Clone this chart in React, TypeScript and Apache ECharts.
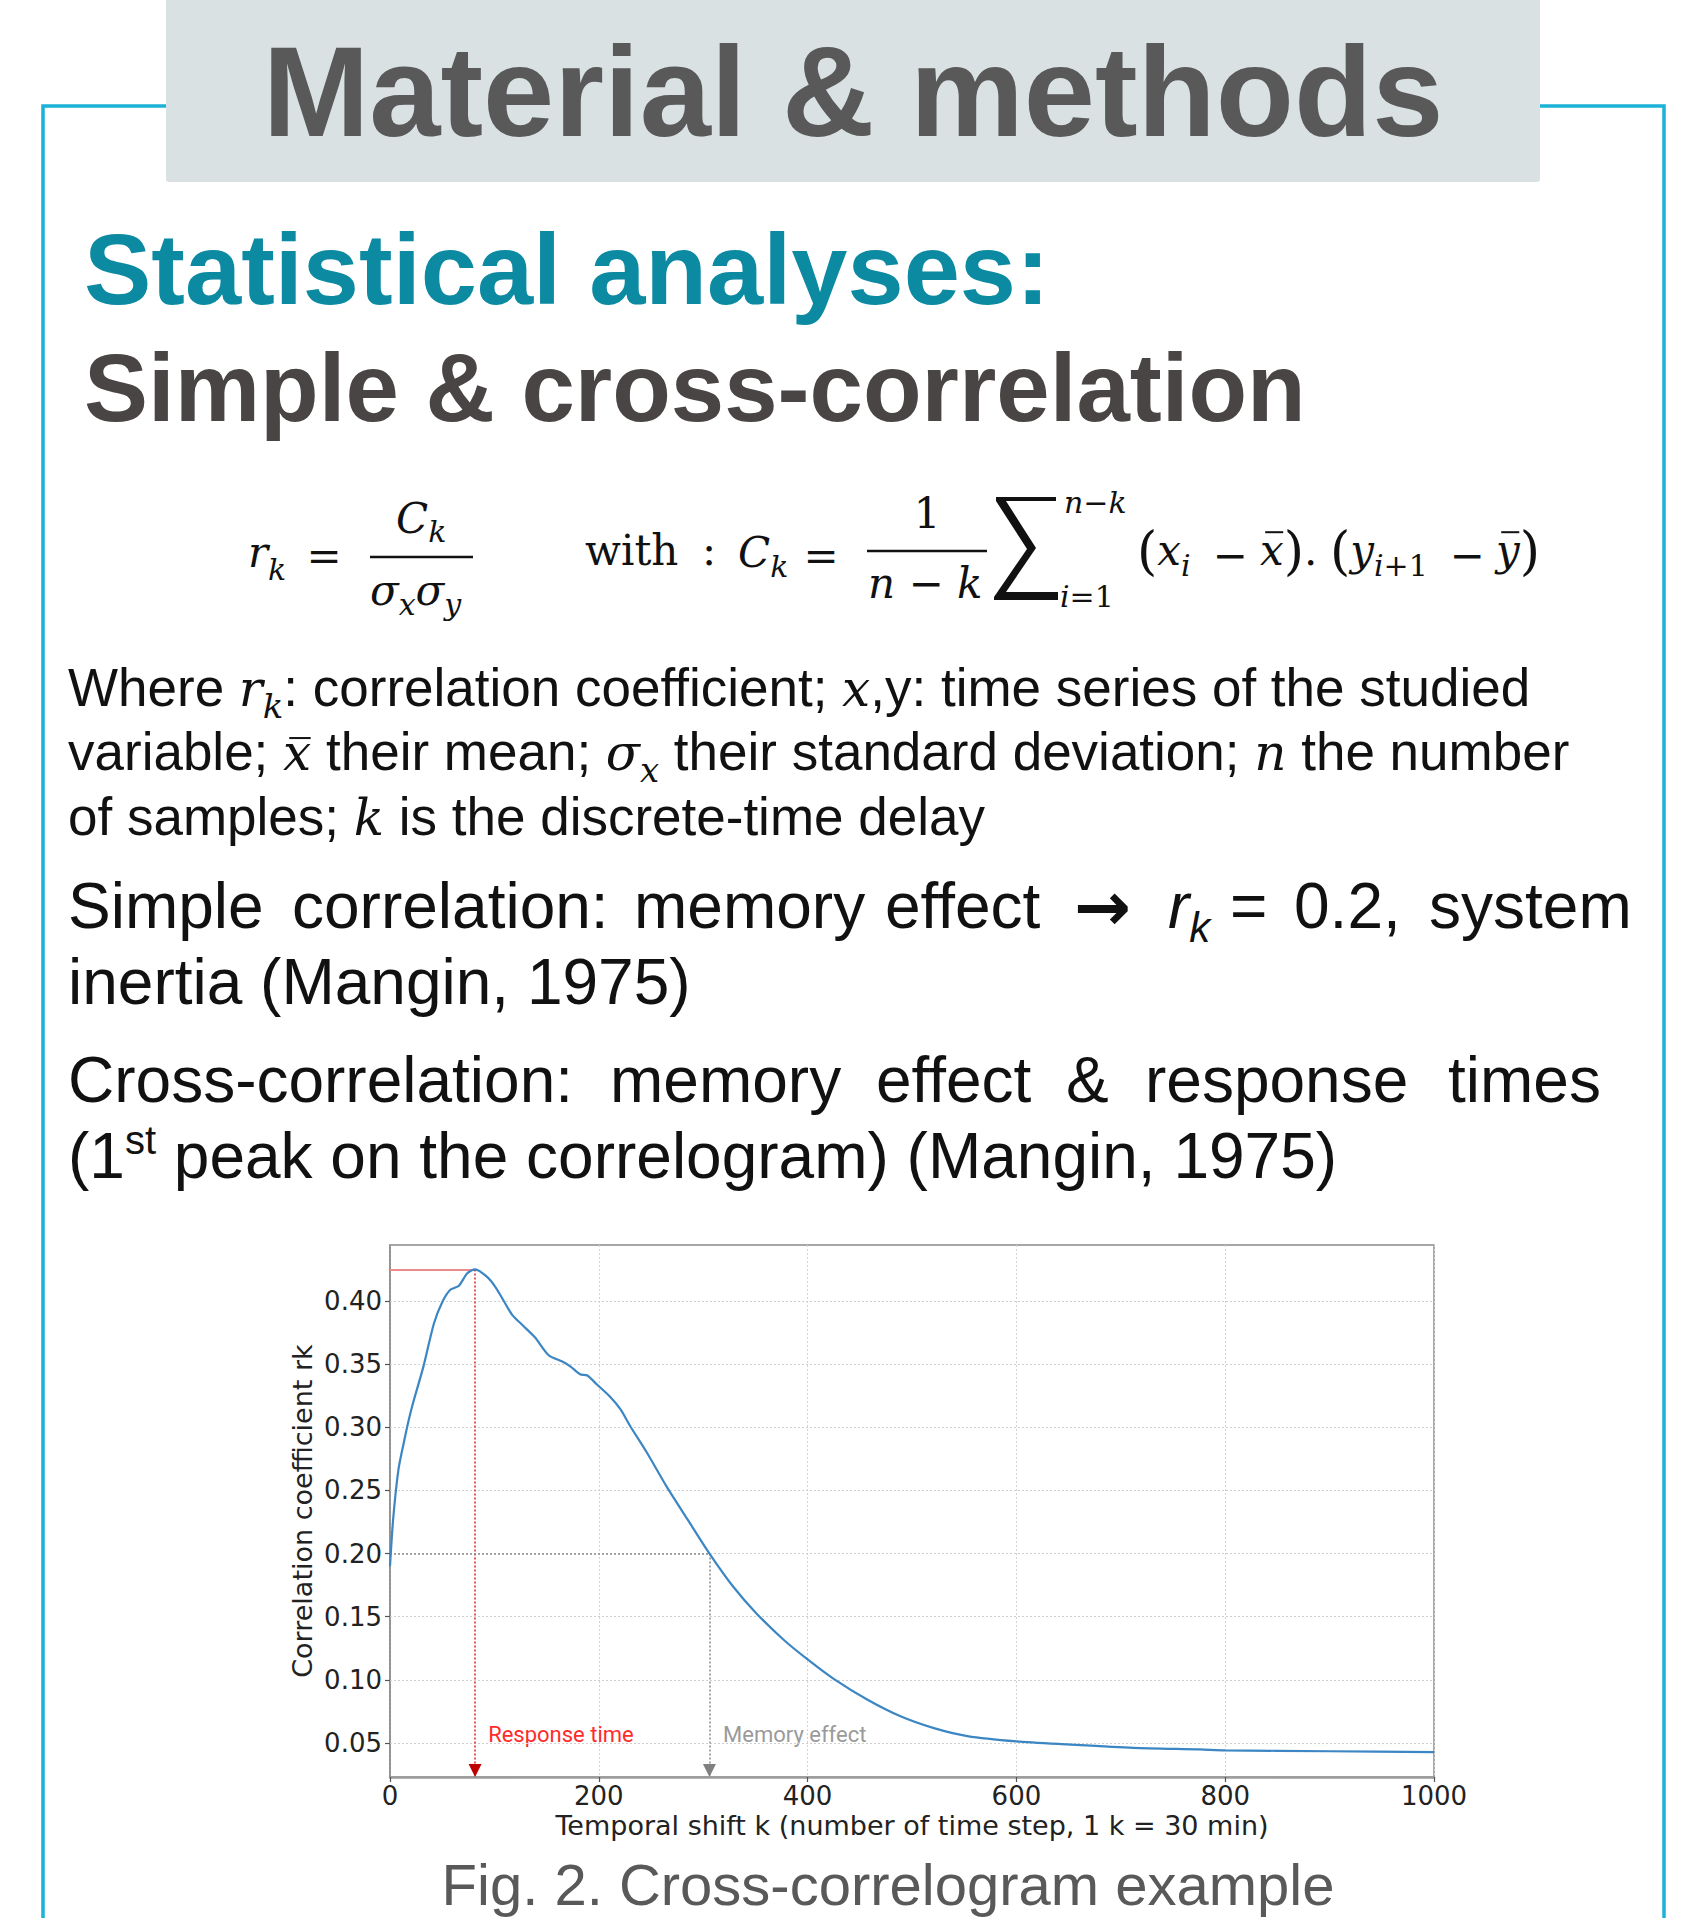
import React, { useEffect, useRef } from 'react';
import * as echarts from 'echarts';

// ---------- data ----------
const lagK = [0, 3, 8, 13, 18, 22, 32, 42, 50, 58, 66, 74, 81.5, 93, 101, 109, 117, 128, 139, 152, 165, 173, 182, 189, 198, 211, 221, 230, 246, 265, 285, 306, 329, 351, 377, 400, 425, 457, 489, 521, 553, 600, 649, 712, 776, 800, 900, 1000];
const corrR = [0.190, 0.227, 0.266, 0.287, 0.306, 0.319, 0.348, 0.382, 0.399, 0.409, 0.412, 0.422, 0.425, 0.419, 0.411, 0.400, 0.389, 0.380, 0.371, 0.357, 0.352, 0.348, 0.342, 0.341, 0.334, 0.324, 0.314, 0.301, 0.280, 0.253, 0.227, 0.200, 0.1735, 0.1526, 0.1318, 0.1162, 0.1008, 0.0845, 0.0712, 0.0618, 0.0555, 0.0513, 0.0489, 0.0462, 0.0449, 0.0442, 0.0435, 0.0428];
const yTickValues = [0.05, 0.1, 0.15, 0.2, 0.25, 0.3, 0.35, 0.4];
const X_MIN = 0;
const X_MAX = 1000;
const X_INTERVAL = 200;
const Y_MIN = 0.0231;
const Y_MAX = 0.4443;
const responseTime = { k: 81.5, r: 0.425 };
const memoryEffect = { k: 306, r: 0.2 };
const annotationLabels = [
  { text: 'Response time', k: 94, r: 0.0565, color: '#ff2b2b' },
  { text: 'Memory effect', k: 319, r: 0.0565, color: '#9a9a9a' },
];
const xAxisTitle = 'Temporal shift k (number of time step, 1 k = 30 min)';
const yAxisTitle = 'Correlation coefficient rk';

// ---------- fonts / text helpers ----------
const SANS = '"Liberation Sans", Arial, sans-serif';
const MATH = '"DejaVu Serif", serif';
const DJV = '"DejaVu Sans", sans-serif';

type Sty = { family: string; size: number; color: string; bold?: boolean; italic?: boolean };

let ctx: CanvasRenderingContext2D | null = null;
function measure(t: string, s: Sty) {
  if (!ctx) ctx = document.createElement('canvas').getContext('2d');
  ctx!.font = `${s.italic ? 'italic ' : ''}${s.bold ? 'bold ' : ''}${s.size}px ${s.family}`;
  return ctx!.measureText(t).width;
}
function txt(text: string, x: number, base: number, s: Sty, align = 'left') {
  return {
    type: 'text', x, y: base - 0.346 * s.size, silent: true,
    style: {
      text, fill: s.color, fontSize: s.size, fontFamily: s.family,
      fontWeight: s.bold ? 'bold' : 'normal', fontStyle: s.italic ? 'italic' : 'normal',
      align, verticalAlign: 'middle',
    },
  };
}
function hline(x1: number, x2: number, y: number, w: number, color = '#111') {
  return { type: 'line', silent: true, shape: { x1, y1: y, x2, y2: y }, style: { stroke: color, lineWidth: w } };
}
type Seg = { t: string; s: Sty; dy?: number; bar?: number };
function run(x0: number, base: number, segs: Seg[]) {
  const out: any[] = [];
  let x = x0;
  for (const sg of segs) {
    const lead = sg.t.length - sg.t.replace(/^\s+/, '').length;
    const core = sg.t.trim();
    const leadW = lead ? measure(sg.t.slice(0, lead), sg.s) : 0;
    const b = base + (sg.dy || 0);
    if (core) out.push(txt(core, x + leadW, b, sg.s));
    const w = measure(sg.t, sg.s);
    if (sg.bar) {
      const y = b - 0.519 * sg.s.size - sg.bar;
      out.push(hline(x + w * 0.22, x + w * 0.98, y, 2, sg.s.color));
    }
    x += w;
  }
  return out;
}

const INK = '#111111';
const S53: Sty = { family: SANS, size: 53, color: INK };
const M50: Sty = { family: MATH, size: 50, color: INK, italic: true };
const M34: Sty = { family: MATH, size: 34, color: INK, italic: true };
const S64: Sty = { family: SANS, size: 64, color: INK };
const S64I: Sty = { family: SANS, size: 64, color: INK, italic: true };
const S42I: Sty = { family: SANS, size: 42, color: INK, italic: true };
const S40: Sty = { family: SANS, size: 40, color: INK };
const F: Sty = { family: MATH, size: 42, color: INK };
const FI: Sty = { family: MATH, size: 42, color: INK, italic: true };
const FS: Sty = { family: MATH, size: 30, color: INK, italic: true };
const FSU: Sty = { family: MATH, size: 30, color: INK };
const FP: Sty = { family: MATH, size: 52, color: INK };

function pageGraphics() {
  const g: any[] = [];
  // cyan frame
  g.push({ type: 'polyline', silent: true, shape: { points: [[43, 1930], [43, 106], [1664, 106], [1664, 1930]] }, style: { stroke: '#1cb2d8', lineWidth: 3.5, fill: null } });
  // header box
  g.push({ type: 'rect', silent: true, shape: { x: 166, y: -4, width: 1374, height: 186, r: [0, 0, 3, 3] }, style: { fill: '#d9e1e3' } });
  g.push(txt('Material & methods', 853, 136, { family: SANS, size: 128, color: '#595959', bold: true }, 'center'));
  g.push(txt('Statistical analyses:', 84, 304, { family: SANS, size: 101, color: '#0b8aa2', bold: true }));
  g.push(txt('Simple & cross-correlation', 84, 421, { family: SANS, size: 96, color: '#4a4545', bold: true }));

  // formula: r_k = C_k / (sigma_x sigma_y)
  g.push(...run(248, 567, [{ t: 'r', s: FI }, { t: 'k', s: FS, dy: 13 }]));
  g.push(txt('=', 324, 571, F, 'center'));
  g.push(...run(396, 533, [{ t: 'C', s: FI }, { t: 'k', s: FS, dy: 9 }]));
  g.push(hline(370, 473, 557, 2.4));
  g.push(...run(370, 605, [{ t: 'σ', s: FI }, { t: 'x', s: FS, dy: 10 }, { t: 'σ', s: FI }, { t: 'y', s: FS, dy: 10 }]));
  g.push(txt('with', 585, 565, F), txt(':', 702, 565, F));
  // C_k = 1/(n-k) sum ...
  g.push(...run(738, 567, [{ t: 'C', s: FI }, { t: 'k', s: FS, dy: 10 }]));
  g.push(txt('=', 821, 571, F, 'center'));
  g.push(txt('1', 927, 528, F, 'center'));
  g.push(hline(867, 987, 551, 2.4));
  g.push(...run(868, 598, [{ t: 'n', s: FI }, { t: ' − ', s: F }, { t: 'k', s: FI }]));
  g.push({
    type: 'polygon', silent: true,
    shape: { points: [[996, 497], [1056, 497], [1056, 501], [1006, 501], [1036, 548], [1006, 592], [1058, 592], [1058, 600], [994, 600], [994, 597], [1027, 549], [996, 501]] },
    style: { fill: INK },
  });
  g.push(...run(1064, 513, [{ t: 'n', s: FS }, { t: '−', s: FSU }, { t: 'k', s: FS }]));
  g.push(...run(1060, 607, [{ t: 'i', s: FS }, { t: '=', s: FSU }, { t: '1', s: FSU }]));
  g.push(...run(1137, 565, [{ t: '(', s: FP, dy: 4 }, { t: 'x', s: FI }, { t: 'i', s: FS, dy: 11 }]));
  g.push(txt('−', 1230, 570, F, 'center'));
  g.push(...run(1260, 565, [{ t: 'x', s: FI, bar: 11 }, { t: ')', s: FP, dy: 4 }, { t: '.', s: F }]));
  g.push(...run(1330, 565, [{ t: '(', s: FP, dy: 4 }, { t: 'y', s: FI }, { t: 'i', s: FS, dy: 11 }, { t: '+1', s: FSU, dy: 11 }]));
  g.push(txt('−', 1467, 570, F, 'center'));
  g.push(...run(1496, 565, [{ t: 'y', s: FI, bar: 11 }, { t: ')', s: FP, dy: 4 }]));

  // definitions paragraph
  g.push(...run(68, 706, [
    { t: 'Where ', s: S53 }, { t: 'r', s: M50 }, { t: 'k', s: M34, dy: 12 },
    { t: ': correlation coefficient; ', s: S53 }, { t: 'x', s: M50 }, { t: ',y: time series of the studied', s: S53 },
  ]));
  g.push(...run(68, 770, [
    { t: 'variable; ', s: S53 }, { t: 'x', s: M50, bar: 6 }, { t: ' their mean; ', s: S53 },
    { t: 'σ', s: M50 }, { t: 'x', s: M34, dy: 12 }, { t: ' their standard deviation; ', s: S53 },
    { t: 'n', s: M50 }, { t: ' the number', s: S53 },
  ]));
  g.push(...run(68, 835, [
    { t: 'of samples; ', s: S53 }, { t: 'k', s: M50 }, { t: ' is the discrete-time delay', s: S53 },
  ]));

  // justified line: Simple correlation ...
  const lineD: [string, number, Sty][] = [
    ['Simple', 68, S64], ['correlation:', 292, S64], ['memory', 634, S64], ['effect', 885, S64],
    ['=', 1230, S64], ['0.2,', 1294, S64], ['system', 1429, S64],
  ];
  lineD.forEach(([t, x, s]) => g.push(txt(t, x, 928, s)));
  g.push(txt('→', 1074, 930, { family: DJV, size: 68, color: INK, bold: true }));
  g.push(...run(1168, 928, [{ t: 'r', s: S64I }, { t: 'k', s: S42I, dy: 14 }]));
  g.push(txt('inertia (Mangin, 1975)', 68, 1004, S64));
  const lineF: [string, number][] = [
    ['Cross-correlation:', 68], ['memory', 610], ['effect', 876], ['&', 1066], ['response', 1145], ['times', 1448],
  ];
  lineF.forEach(([t, x]) => g.push(txt(t, x, 1102, S64)));
  g.push(...run(68, 1178, [
    { t: '(1', s: S64 }, { t: 'st', s: S40, dy: -24 }, { t: ' peak on the correlogram) (Mangin, 1975)', s: S64 },
  ]));

  // chart axis titles
  g.push({
    type: 'text', x: 302, y: 1511, rotation: Math.PI / 2, silent: true,
    style: { text: yAxisTitle, fill: '#222', fontSize: 27, fontFamily: DJV, align: 'center', verticalAlign: 'middle' },
  });
  g.push({
    type: 'text', x: 912, y: 1825, silent: true,
    style: { text: xAxisTitle, fill: '#222', fontSize: 27, fontFamily: DJV, align: 'center', verticalAlign: 'middle' },
  });
  // caption
  g.push(txt('Fig. 2. Cross-correlogram example', 888, 1905, { family: SANS, size: 58, color: '#595959' }, 'center'));
  return g;
}

function buildOption() {
  const curve = lagK.map((k, i) => [k, corrR[i]]);
  const dotted = [2, 2];
  return {
    animation: false,
    backgroundColor: '#ffffff',
    grid: { left: 390, top: 1245, width: 1044, height: 532, show: true, borderColor: '#8a8a8a', borderWidth: 1.5, containLabel: false },
    xAxis: {
      type: 'value', min: X_MIN, max: X_MAX, interval: X_INTERVAL,
      axisLine: { show: true, onZero: false, lineStyle: { color: '#9c9c9c', width: 2.5 } },
      axisTick: { show: true, length: 5, lineStyle: { color: '#555', width: 1.2 } },
      axisLabel: { formatter: (v: number) => String(v), fontFamily: DJV, fontSize: 26, color: '#222', margin: 6 },
      splitLine: { show: true, lineStyle: { color: '#d2d2d2', type: dotted, width: 1 } },
    },
    yAxis: {
      type: 'value', min: Y_MIN, max: Y_MAX,
      axisLine: { show: true, onZero: false, lineStyle: { color: '#8a8a8a', width: 1.5 } },
      axisTick: { show: true, length: 5, customValues: yTickValues, lineStyle: { color: '#555', width: 1.2 } },
      axisLabel: { customValues: yTickValues, formatter: (v: number) => v.toFixed(2), fontFamily: DJV, fontSize: 26, color: '#222', margin: 8 },
      splitLine: { show: false },
    },
    series: [
      {
        type: 'line', data: [], z: 1, silent: true,
        markLine: {
          silent: true, animation: false, symbol: ['none', 'none'], label: { show: false },
          lineStyle: { color: '#cfcfcf', type: dotted, width: 1 },
          data: yTickValues.map((v) => ({ yAxis: v })),
        },
      },
      {
        type: 'line', data: curve, showSymbol: false, smooth: 0.25, z: 5, silent: true,
        lineStyle: { color: '#3b86c3', width: 2.2 },
        markLine: {
          silent: true, animation: false, symbol: ['none', 'none'], label: { show: false },
          data: [
            [{ coord: [X_MIN, responseTime.r], lineStyle: { color: '#ee8a8a', width: 2, type: 'solid' } }, { coord: [responseTime.k, responseTime.r] }],
            [{ coord: [responseTime.k, responseTime.r], lineStyle: { color: '#e01f1f', width: 1.5, type: dotted } }, { coord: [responseTime.k, Y_MIN] }],
            [{ coord: [X_MIN, memoryEffect.r], lineStyle: { color: '#8c8c8c', width: 1.5, type: dotted } }, { coord: [memoryEffect.k, memoryEffect.r] }],
            [{ coord: [memoryEffect.k, memoryEffect.r], lineStyle: { color: '#8c8c8c', width: 1.5, type: dotted } }, { coord: [memoryEffect.k, Y_MIN] }],
          ],
        },
        markPoint: {
          silent: true, animation: false, label: { show: false },
          data: [
            { coord: [responseTime.k, Y_MIN], symbol: 'triangle', symbolSize: [13, 13], symbolRotate: 180, symbolOffset: [0, -6.5], itemStyle: { color: '#c00000' } },
            { coord: [memoryEffect.k, Y_MIN], symbol: 'triangle', symbolSize: [13, 13], symbolRotate: 180, symbolOffset: [0, -6.5], itemStyle: { color: '#808080' } },
          ],
        },
      },
    ],
  };
}

export default function App() {
  const ref = useRef<HTMLDivElement>(null);
  useEffect(() => {
    const chart = echarts.init(ref.current!, null, { renderer: 'svg' });
    chart.setOption(buildOption() as any);
    const labels = annotationLabels.map((a) => {
      const p = chart.convertToPixel({ gridIndex: 0 } as any, [a.k, a.r]) as number[];
      return {
        type: 'text', x: p[0], y: p[1], silent: true,
        style: { text: a.text, fill: a.color, fontSize: 22, fontFamily: 'Roboto, sans-serif', align: 'left', verticalAlign: 'middle' },
      };
    });
    chart.setOption({ graphic: [...pageGraphics(), ...labels] } as any);
    return () => chart.dispose();
  }, []);
  return <div ref={ref} style={{ position: 'absolute', left: 0, top: 0, width: 1700, height: 1918, background: '#fff' }} />;
}
